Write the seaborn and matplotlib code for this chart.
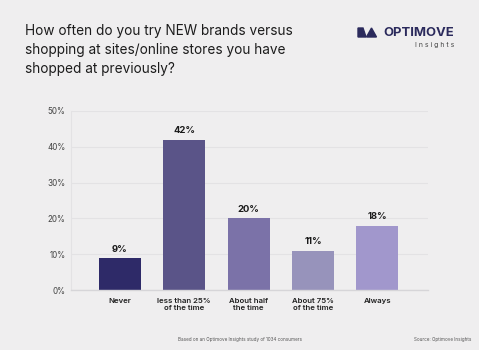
import matplotlib
matplotlib.use("Agg")
import matplotlib.pyplot as plt
import seaborn as sns
import pandas as pd
from matplotlib.patches import Polygon

# chart data
categories = ["Never", "less than 25%\nof the time", "About half\nthe time",
              "About 75%\nof the time", "Always"]
shares = [9, 42, 20, 11, 18]
bar_colors = ["#2e2a68", "#5a5488", "#7b72a8", "#9793bb", "#a197cc"]
y_ticks = [0, 10, 20, 30, 40, 50]

bg = "#efeeef"
sns.set_theme(style="white")
plt.rcParams["font.family"] = ["Inter", "DejaVu Sans"]

df = pd.DataFrame({"category": categories, "share": shares})

fig = plt.figure(figsize=(4.79, 3.5), dpi=100, facecolor=bg)
ax = fig.add_axes([0.148, 0.171, 0.746, 0.512], facecolor=bg)

sns.barplot(data=df, x="category", y="share", hue="category",
            palette=bar_colors, width=0.65, saturation=1, legend=False,
            linewidth=0, edgecolor="none", ax=ax)

for p, v in zip(ax.patches, shares):
    ax.text(p.get_x() + p.get_width() / 2, v + 1.2, f"{v}%",
            ha="center", va="bottom", fontsize=6.8, fontweight="bold", color="#1a1a1a")

ax.set_ylim(0, 50)
ax.set_xlim(-0.76, 4.79)
ax.set_yticks(y_ticks)
ax.set_yticklabels([f"{t}%" for t in y_ticks])
ax.yaxis.grid(True, color="#e3e2e4", linewidth=0.8)
ax.set_axisbelow(True)
ax.tick_params(axis="y", labelsize=5.8, labelcolor="#444444", pad=4, length=0)
ax.tick_params(axis="x", labelsize=5.6, labelcolor="#1e1e1e", pad=5.5, length=0)
ax.set_xlabel("")
ax.set_ylabel("")
for s in ["top", "right"]:
    ax.spines[s].set_visible(False)
ax.spines["left"].set_color("#e3e2e4")
ax.spines["left"].set_linewidth(0.8)
ax.spines["bottom"].set_color("#d6d5d8")
ax.spines["bottom"].set_linewidth(1.0)
for lbl in ax.get_xticklabels():
    lbl.set_fontweight("semibold")

# title
fig.text(25 / 479, 1 - 24.5 / 350,
         "How often do you try NEW brands versus\nshopping at sites/online stores you have\nshopped at previously?",
         ha="left", va="top", fontsize=9.8, color="#1c1c1c", linespacing=1.42)

# logo
navy = "#2b2a5c"
fig.text(454 / 479, 1 - 32.5 / 350, "OPTIMOVE", ha="right", va="center",
         fontsize=9.4, fontweight="bold", color=navy)
fig.text(454 / 479, 1 - 44.5 / 350, "I n s i g h t s", ha="right", va="center",
         fontsize=5.0, color="#444444")
W, H = 479, 350
icon1 = Polygon([(358 / W, 1 - 28 / H), (363 / W, 1 - 28 / H), (366 / W, 1 - 37 / H),
                 (358 / W, 1 - 37 / H)], closed=True, transform=fig.transFigure,
                color=navy)
icon2 = Polygon([(366.5 / W, 1 - 37 / H), (371.5 / W, 1 - 28 / H), (376.5 / W, 1 - 37 / H)],
                closed=True, transform=fig.transFigure, color=navy)
fig.patches.extend([icon1, icon2])

# footnotes
fig.text(240 / 479, 1 - 339 / 350, "Based on an Optimove Insights study of 1034 consumers",
         ha="center", va="center", fontsize=3.3, color="#555555")
fig.text(471 / 479, 1 - 339 / 350, "Source: Optimove Insights",
         ha="right", va="center", fontsize=3.3, color="#555555")

fig.savefig("out.png", dpi=100, facecolor=bg)
